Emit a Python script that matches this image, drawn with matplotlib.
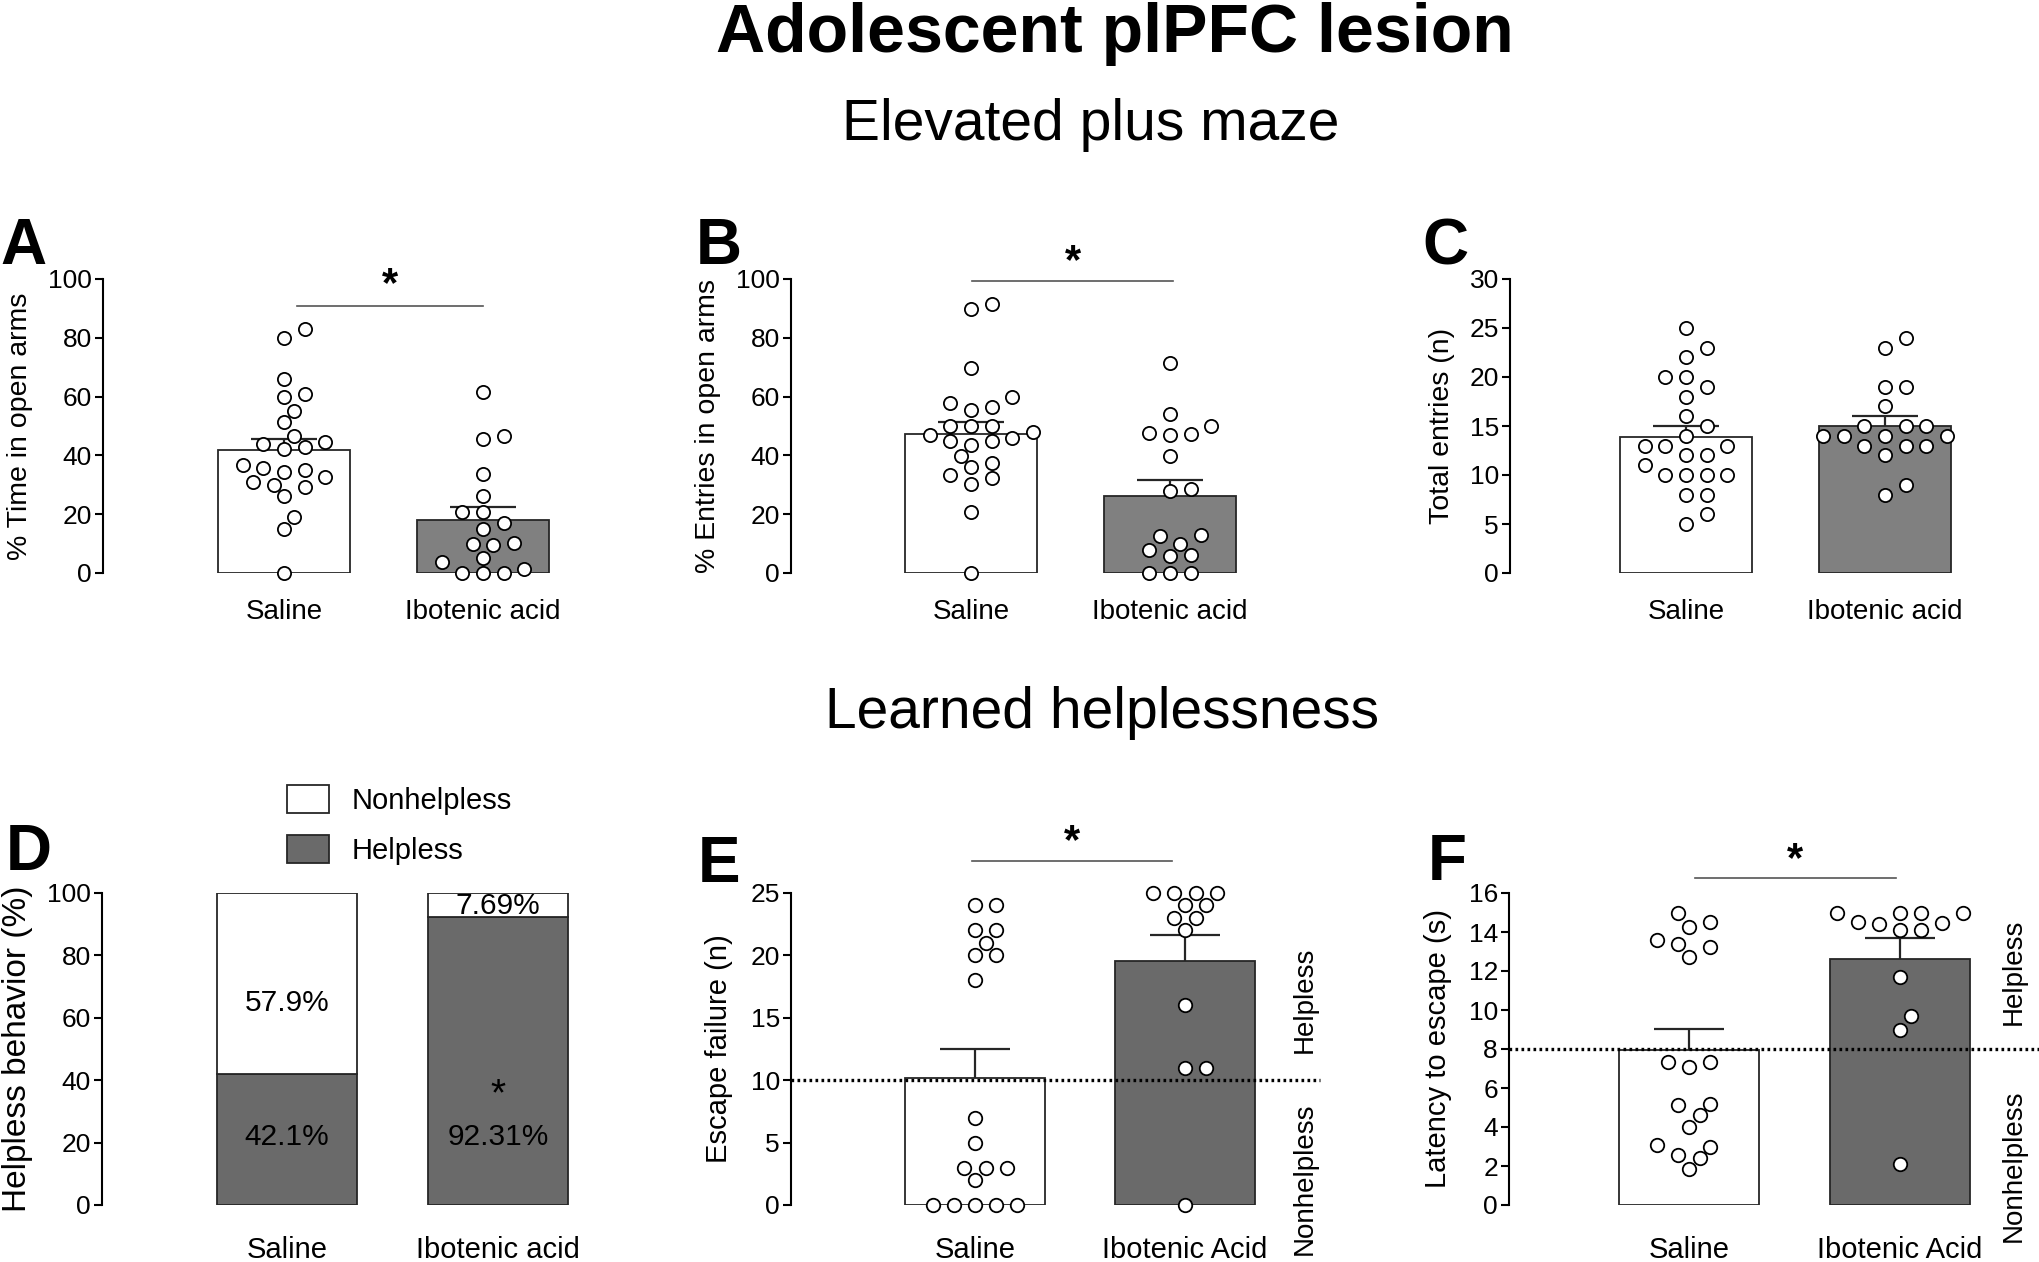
import numpy as np
import matplotlib
matplotlib.use('Agg')
import matplotlib.pyplot as plt
from matplotlib.patches import Patch

plt.rcParams['font.family'] = ['Liberation Sans', 'DejaVu Sans']

# ---------------- data ----------------
groups_top = ['Saline', 'Ibotenic acid']
groups_bottom = ['Saline', 'Ibotenic Acid']

# A: % time in open arms
a_saline = [82.9, 80.1, 66.0, 60.0, 60.9, 55.2, 51.2, 46.6, 43.9, 42.2, 42.8, 44.6,
            36.8, 35.1, 34.5, 35.6, 32.6, 30.0, 29.4, 31.1, 26.2, 19.0, 15.0, 0.0]
a_ibo = [61.7, 46.6, 45.6, 33.7, 26.2, 20.9, 20.6, 17.0, 14.9, 9.8, 9.6, 10.2,
         3.6, 5.1, 0.0, 0.0, 0.0, 1.5]
a_mean = [41.9, 18.1]
a_sem = [3.8, 4.5]

# B: % entries in open arms
b_saline = [91.6, 89.9, 69.7, 59.9, 56.5, 55.6, 57.8, 49.9, 49.9, 46.8, 47.8, 49.9,
            44.8, 43.7, 44.8, 45.9, 39.7, 37.4, 35.9, 33.2, 32.3, 30.4, 20.7, 0.0]
b_ibo = [71.4, 54.2, 47.6, 47.1, 47.3, 49.9, 39.7, 27.8, 28.6, 12.8, 9.9, 7.7,
         12.5, 6.2, 5.7, 0.0, 0.0, 0.0]
b_mean = [47.4, 26.1]
b_sem = [4.1, 5.4]

# C: total entries
c_saline = [25, 23, 22, 20, 20, 19, 18, 16, 15, 14, 13, 13, 13, 12, 12, 11,
            10, 10, 10, 10, 8, 8, 6, 5]
c_ibo = [24, 23, 19, 19, 17, 15, 15, 15, 14, 14, 14, 14, 13, 13, 13, 12, 9, 8]
c_mean = [13.85, 15.0]
c_sem = [1.15, 1.0]

# D: helpless behaviour (%)
d_helpless = [42.1, 92.31]
d_nonhelpless = [57.9, 7.69]
d_helpless_labels = ['42.1%', '92.31%']
d_nonhelpless_labels = ['57.9%', '7.69%']
d_legend = ['Nonhelpless', 'Helpless']

# E: escape failures
e_saline = [24, 24, 22, 22, 21, 20, 20, 18, 7, 5, 3, 3, 3, 2, 0, 0, 0, 0, 0]
e_ibo = [25, 25, 25, 25, 24, 24, 23, 23, 22, 16, 11, 11, 0]
e_mean = [10.2, 19.54]
e_sem = [2.3, 2.13]
e_thresh = 10

# F: latency to escape
f_saline = [15.0, 14.5, 14.25, 13.4, 13.25, 13.6, 12.7, 7.34, 7.09, 7.34, 5.2, 5.12,
            4.6, 4.0, 3.07, 3.0, 2.56, 2.39, 1.83]
f_ibo = [15.0, 15.0, 15.0, 15.0, 14.43, 14.5, 14.48, 14.09, 14.09, 11.7, 9.7, 9.0, 2.08]
f_mean = [7.94, 12.59]
f_sem = [1.08, 1.11]
f_thresh = 8

# ---------------- figure ----------------
W, H = 2040, 1262
DPI = 100
fig = plt.figure(figsize=(W / DPI, H / DPI), dpi=DPI)

GRAY_TOP = '#808080'
GRAY_BOT = '#6a6a6a'
EDGE = '#262626'
MEW = 1.3


def add_ax(spine, c0, c1, top, bottom, right_units=0.62):
    unit = c1 - c0
    left_u = (spine - c0) / unit
    right = c1 + right_units * unit
    ax = fig.add_axes([spine / W, 1 - bottom / H, (right - spine) / W, (bottom - top) / H])
    ax.set_xlim(left_u, 1 + right_units)
    ax.patch.set_alpha(0)
    return ax


def style_axis(ax, ymax, step, labels, tick_fs, xlab_fs, pad):
    ticks = np.arange(0, ymax + 0.001, step)
    ax.set_ylim(0, ymax)
    ax.set_yticks(ticks)
    ax.set_yticklabels([f'{int(t)}' for t in ticks])
    for s in ['top', 'right', 'bottom']:
        ax.spines[s].set_visible(False)
    ax.spines['left'].set_linewidth(1.5)
    ax.spines['left'].set_bounds(0, ymax)
    ax.tick_params(axis='y', length=6, width=1.5, labelsize=tick_fs, pad=2)
    ax.set_xticks([0, 1])
    ax.set_xticklabels(labels, fontsize=xlab_fs)
    ax.tick_params(axis='x', length=0, pad=pad)


def swarm_x(ax, xc, vals, diam_pt, step_frac=0.69):
    """Beeswarm: markers of diameter d placed on a grid of step_frac*d."""
    d = diam_pt * DPI / 72.0
    step = step_frac * d
    vals = np.asarray(vals, dtype=float)
    disp = ax.transData.transform(np.column_stack([np.full(len(vals), xc), vals]))
    ys = disp[:, 1]
    x0 = disp[0, 0]
    order = np.argsort(ys, kind='stable')
    cands = [0.0]
    for k in range(1, 40):
        cands += [k * step, -k * step]
    px_, py_ = [], []
    out = np.zeros(len(vals))
    for i in order:
        for c in cands:
            ok = True
            for a, b in zip(px_, py_):
                if (c - a) ** 2 + (ys[i] - b) ** 2 < (0.99 * d) ** 2:
                    ok = False
                    break
            if ok:
                break
        px_.append(c)
        py_.append(ys[i])
        out[i] = c
    back = ax.transData.inverted().transform(np.column_stack([x0 + out, ys]))
    return back[:, 0]


def bar_panel(ax, sal, ibo, mean, sem, gray, ms, bw, capfrac=0.5):
    ax.bar([0, 1], mean, width=bw, color=['white', gray], edgecolor=EDGE,
           linewidth=1.3, zorder=1)
    for x, m, s in zip([0, 1], mean, sem):
        ax.plot([x, x], [m, m + s], color=EDGE, lw=1.6, zorder=2, solid_capstyle='butt')
        ax.plot([x - capfrac * bw / 2, x + capfrac * bw / 2], [m + s, m + s],
                color=EDGE, lw=1.6, zorder=2, solid_capstyle='butt')
    for x, vals in zip([0, 1], [sal, ibo]):
        xs = swarm_x(ax, x, vals, ms + MEW)
        ax.plot(xs, vals, 'o', ms=ms, mfc='white', mec='black', mew=MEW,
                ls='none', clip_on=False, zorder=3)


def sig(ax, x0, x1, y, ystar, fs=30):
    ax.plot([x0, x1], [y, y], color='#555555', lw=1.2, clip_on=False)
    ax.text((x0 + x1) / 2, ystar, '*', ha='center', va='center', fontsize=fs,
            fontweight='bold', clip_on=False)


def ylabel(ax, text, right_px, fs, yfrac=0.5):
    ax.set_ylabel(text, fontsize=fs)
    bb = ax.get_position()
    ax.yaxis.set_label_coords((right_px - bb.x0 * W) / (bb.width * W), yfrac)


def letter(x, base, t):
    fig.text(x / W, 1 - base / H, t, fontsize=46, fontweight='bold', va='baseline')


def threshold(ax, y, right_px):
    bb = ax.get_position()
    xr = (right_px - bb.x0 * W) / (bb.width * W)
    ax.plot([0, xr], [y, y], transform=ax.get_yaxis_transform(), color='black',
            ls=(0, (0.8, 1.0)), lw=2.4, clip_on=False, zorder=4)


# titles
fig.text(1115 / W, 1 - 52 / H, 'Adolescent plPFC lesion', fontsize=49,
         fontweight='bold', ha='center', va='baseline')
fig.text(1091 / W, 1 - 140 / H, 'Elevated plus maze', fontsize=41,
         ha='center', va='baseline')
fig.text(1102 / W, 1 - 728 / H, 'Learned helplessness', fontsize=41,
         ha='center', va='baseline')

TOP_T, TOP_B = 279, 573
BOT_T, BOT_B = 893, 1205
MS_TOP = 9.5
MS_BOT = 9.7
TICK_FS = 19

# ---- A ----
axA = add_ax(103, 284, 483, TOP_T, TOP_B)
style_axis(axA, 100, 20, groups_top, TICK_FS, 20, 19)
bar_panel(axA, a_saline, a_ibo, a_mean, a_sem, GRAY_TOP, MS_TOP, 0.665)
sig(axA, 0.066, 1.0, 90.8, 98.0)
ylabel(axA, '% Time in open arms', 33, 20.5)
letter(0, 264, 'A')

# ---- B ----
axB = add_ax(791, 971, 1170, TOP_T, TOP_B)
style_axis(axB, 100, 20, groups_top, TICK_FS, 20, 19)
bar_panel(axB, b_saline, b_ibo, b_mean, b_sem, GRAY_TOP, MS_TOP, 0.665)
sig(axB, 0.006, 1.015, 99.4, 105.9)
ylabel(axB, '% Entries in open arms', 721, 20.5)
letter(696, 264, 'B')

# ---- C ----
axC = add_ax(1510, 1686, 1885, TOP_T, TOP_B)
style_axis(axC, 30, 5, groups_top, TICK_FS, 20, 19)
bar_panel(axC, c_saline, c_ibo, c_mean, c_sem, GRAY_TOP, MS_TOP, 0.665)
ylabel(axC, 'Total entries (n)', 1455, 20.5)
letter(1422, 264, 'C')

# ---- D ----
axD = add_ax(102, 287, 498, BOT_T, BOT_B)
style_axis(axD, 100, 20, groups_top, TICK_FS, 21, 22)
axD.bar([0, 1], d_helpless, width=0.667, color=GRAY_BOT, edgecolor=EDGE,
        linewidth=1.3, label=d_legend[1])
axD.bar([0, 1], d_nonhelpless, bottom=d_helpless, width=0.667, color='white',
        edgecolor=EDGE, linewidth=1.3, label=d_legend[0])
help_text_y = [21.9, 21.9]
nonhelp_text_y = [64.7, 95.8]
for i in range(2):
    axD.text(i, help_text_y[i], d_helpless_labels[i], ha='center', va='center',
             fontsize=21.5)
    axD.text(i, nonhelp_text_y[i], d_nonhelpless_labels[i], ha='center',
             va='center', fontsize=21.5)
axD.text(1, 35.0, '*', ha='center', va='center', fontsize=28)
ylabel(axD, 'Helpless behavior (%)', 33, 24)
letter(6, 870, 'D')
fig.legend([Patch(facecolor='white', edgecolor=EDGE, lw=1.3),
            Patch(facecolor=GRAY_BOT, edgecolor=EDGE, lw=1.3)], d_legend,
           loc='upper left', bbox_to_anchor=(287 / W, 1 - 785 / H),
           frameon=False, fontsize=21, handlelength=1.45, handleheight=1.1,
           labelspacing=0.7, handletextpad=0.75, borderaxespad=0, borderpad=0)

# ---- E ----
axE = add_ax(791, 975, 1185, BOT_T, BOT_B)
style_axis(axE, 25, 5, groups_bottom, TICK_FS, 21, 22)
bar_panel(axE, e_saline, e_ibo, e_mean, e_sem, GRAY_BOT, MS_BOT, 0.665)
threshold(axE, e_thresh, 1320)
sig(axE, -0.015, 0.94, 27.6, 29.1)
ylabel(axE, 'Escape failure (n)', 733, 21)
letter(698, 882, 'E')
fig.text(1305 / W, 1 - 1000 / H, 'Helpless', rotation=90, fontsize=20,
         ha='center', va='center')
fig.text(1305 / W, 1 - 1179 / H, 'Nonhelpless', rotation=90, fontsize=20,
         ha='center', va='center')

# ---- F ----
axF = add_ax(1509, 1689, 1900, BOT_T, BOT_B)
style_axis(axF, 16, 2, groups_bottom, TICK_FS, 21, 22)
bar_panel(axF, f_saline, f_ibo, f_mean, f_sem, GRAY_BOT, MS_BOT, 0.665)
threshold(axF, f_thresh, 2040)
sig(axF, 0.027, 0.98, 16.75, 17.7)
ylabel(axF, 'Latency to escape (s)', 1452, 21)
letter(1428, 880, 'F')
fig.text(2014 / W, 1 - 972 / H, 'Helpless', rotation=90, fontsize=20,
         ha='center', va='center')
fig.text(2014 / W, 1 - 1166 / H, 'Nonhelpless', rotation=90, fontsize=20,
         ha='center', va='center')

fig.savefig('out.png', dpi=DPI, facecolor='white')
